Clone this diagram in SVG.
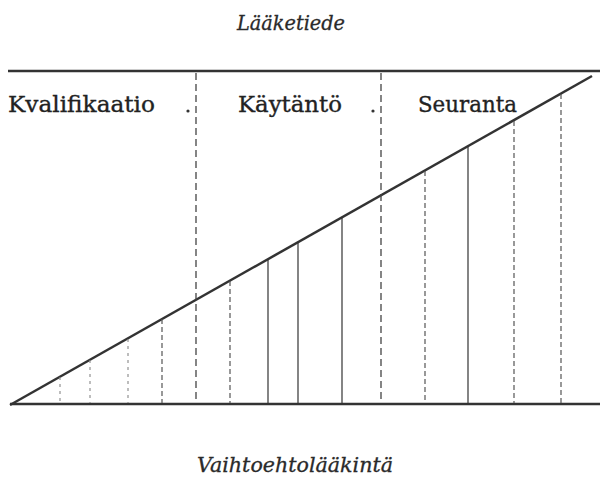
<svg xmlns="http://www.w3.org/2000/svg" width="600" height="481" viewBox="0 0 600 481">
<style>
.hdr{font-family:"DejaVu Serif","Liberation Serif",serif;font-style:italic;font-size:20px;fill:#2a2a2a;stroke:#2a2a2a;stroke-width:0.3}
.lbl{font-family:"DejaVu Serif","Liberation Serif",serif;font-size:22px;fill:#222;stroke:#222;stroke-width:0.35}
.rule{stroke:#333;stroke-width:2.5;fill:none}
.div{stroke:#444;stroke-width:1.3;stroke-dasharray:7 4;fill:none}
.h{stroke:#333;stroke-width:1.2;fill:none}
.hd{stroke:#555;stroke-width:1.2;stroke-dasharray:5 3;fill:none}
.hf{stroke:#888;stroke-width:1.1;stroke-dasharray:3 4;fill:none}
</style>
<rect width="600" height="481" fill="#fff"/>
<text class="hdr" x="237" y="30" textLength="108" lengthAdjust="spacingAndGlyphs">Lääketiede</text>
<text class="hdr" x="197" y="472" textLength="196" lengthAdjust="spacingAndGlyphs">Vaihtoehtolääkintä</text>
<g id="kvalifikaatio"><text class="lbl" x="8" y="112" textLength="147" lengthAdjust="spacingAndGlyphs">Kvalifikaatio</text><circle cx="188" cy="111" r="1.6" fill="#333"/></g>
<g id="kaytanto"><text class="lbl" x="238" y="112" textLength="104" lengthAdjust="spacingAndGlyphs">Käytäntö</text><circle cx="373" cy="111" r="1.6" fill="#333"/></g>
<g id="seuranta"><text class="lbl" x="418" y="112" textLength="99" lengthAdjust="spacingAndGlyphs">Seuranta</text></g>
<g id="connectors">
<line class="rule" x1="8" y1="71" x2="600" y2="71"/>
<line class="rule" x1="10" y1="404" x2="600" y2="404"/>
<line class="rule" x1="10" y1="405" x2="592" y2="76"/>
<line class="div" x1="196" y1="73" x2="196" y2="403"/>
<line class="div" x1="381" y1="73" x2="381" y2="403"/>
<line class="hf" x1="60" y1="377" x2="60" y2="403"/>
<line class="hf" x1="90" y1="360" x2="90" y2="403"/>
<line class="hf" x1="128" y1="339" x2="128" y2="403"/>
<line class="hd" x1="162" y1="319" x2="162" y2="403"/>
<line class="hd" x1="230" y1="281" x2="230" y2="403"/>
<line class="h" x1="268" y1="260" x2="268" y2="403"/>
<line class="h" x1="298" y1="243" x2="298" y2="403"/>
<line class="h" x1="342" y1="218" x2="342" y2="403"/>
<line class="hd" x1="425" y1="171" x2="425" y2="403"/>
<line class="h" x1="468" y1="147" x2="468" y2="403"/>
<line class="hd" x1="514" y1="121" x2="514" y2="403"/>
<line class="hd" x1="561" y1="94" x2="561" y2="403"/>
</g>
</svg>
